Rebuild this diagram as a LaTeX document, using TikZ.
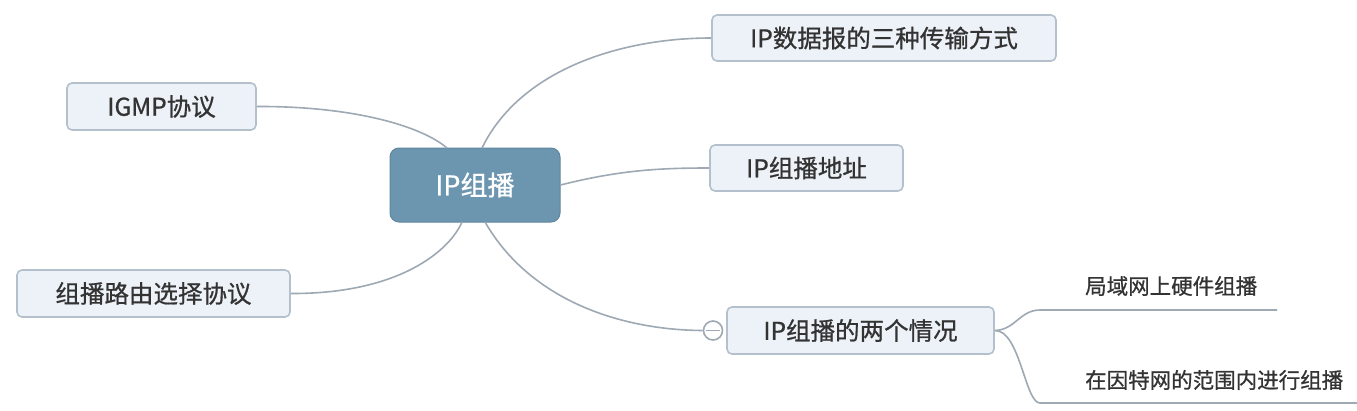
\documentclass[tikz,border=0pt]{standalone}
\usepackage{fontspec}
\setmainfont{Noto Sans CJK SC}[UprightFeatures={FakeBold=0.8}]
\usetikzlibrary{calc}
\definecolor{cmain}{HTML}{6C95B0}
\definecolor{cfill}{HTML}{EDF2F8}
\definecolor{cborder}{HTML}{B4C0CC}
\definecolor{cline}{HTML}{9EA9B4}
\definecolor{ctext}{HTML}{333333}
\tikzset{
  topic/.style={draw=cborder, line width=1.6pt, fill=cfill, rounded corners=5pt, inner sep=0pt, text=ctext, font=\fontsize{24.5}{28}\selectfont},
  central/.style={fill=cmain, draw=cmain!90!black, line width=1pt, rounded corners=9pt, inner sep=0pt, text=white, font=\fontsize{27}{30}\selectfont},
  conn/.style={draw=cline, line width=1.6pt},
  sub/.style={text=ctext, font=\fontsize{21.5}{25}\selectfont, inner sep=0pt, anchor=west}
}
\begin{document}
\begin{tikzpicture}[x=1pt,y=-1pt]
\useasboundingbox[fill=white] (0,0) rectangle (1357,410);
% central
\node[central, minimum width=170pt, minimum height=74pt] (c) at (475,185) {IP组播};
% topics
\node[topic, minimum width=189pt, minimum height=47pt] (igmp) at (161.5,106.5) {IGMP协议};
\node[topic, minimum width=273pt, minimum height=47pt] (route) at (153.5,293.5) {组播路由选择协议};
\node[topic, minimum width=344pt, minimum height=46pt] (dgram) at (884,38) {IP数据报的三种传输方式};
\node[topic, minimum width=193pt, minimum height=46pt] (addr) at (806.5,168) {IP组播地址};
\node[topic, minimum width=267pt, minimum height=47pt] (two) at (860.5,330.5) {IP组播的两个情况};
% collapse circle
\node[circle, draw=cline, line width=1.6pt, fill=white, minimum size=19pt, inner sep=0pt] (col) at (713,330.5) {};
% coordinates on the centre
\coordinate (cTL) at (447,148);
\coordinate (cT) at (482,148);
\coordinate (cBL) at (462,222);
\coordinate (cB) at (485,222);
% connectors
\draw[conn] (igmp.east) .. controls (350,106) and (420,125) .. (cTL);
\draw[conn] (route.east) .. controls (400,294) and (450,250) .. (cBL);
\draw[conn] (cT) .. controls (520,70) and (620,38) .. (dgram.west);
\draw[conn] (c.east) .. controls (620,170) and (660,168) .. (addr.west);
\draw[conn] (cB) .. controls (530,300) and (620,330) .. (col.west);
\draw[cline, line width=1.6pt] ($(col.west)+(3,0)$) -- ($(col.east)+(-3,0)$);
% subtopics
\coordinate (s1a) at (1040,310);
\coordinate (s1b) at (1277,310);
\coordinate (s2a) at (1040,403);
\coordinate (s2b) at (1357,403);
\draw[conn] (two.east) .. controls (1015,330) and (1020,310) .. (s1a) -- (s1b);
\draw[conn] (two.east) .. controls (1020,330) and (1025,403) .. (s2a) -- (s2b);
\node[sub] (t1) at (1085,286) {局域网上硬件组播};
\node[sub] (t2) at (1085,380) {在因特网的范围内进行组播};
\end{tikzpicture}
\end{document}
